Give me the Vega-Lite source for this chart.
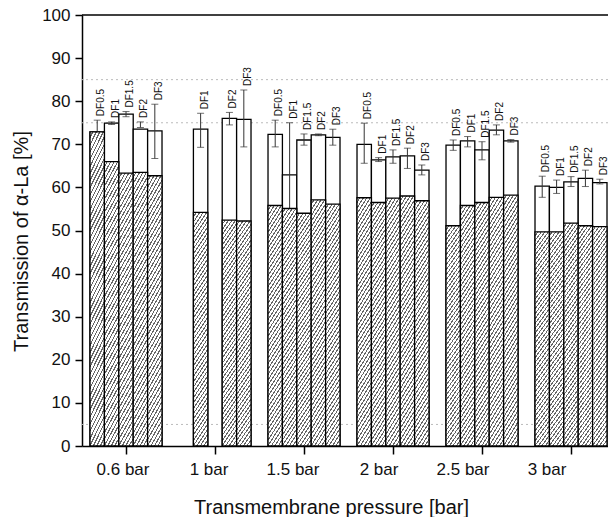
{
  "$schema": "https://vega.github.io/schema/vega-lite/v6.json",
  "width": 526,
  "height": 431,
  "autosize": {"type": "none"},
  "padding": {"left": 82, "top": 15, "right": 0, "bottom": 71},
  "background": "white",
  "config": {
    "view": {"stroke": null},
    "font": "Liberation Sans",
    "axis": {"domainColor": "black", "tickColor": "black", "labelColor": "#111", "titleColor": "#111", "titleFontWeight": "normal", "grid": false}
  },
  "layer": [
    {
      "data": {"values": [{"v": 5}, {"v": 75}, {"v": 85}]},
      "mark": {"type": "rule", "color": "#bbbbbb", "strokeDash": [2, 3], "strokeWidth": 1},
      "encoding": {
        "y": {
          "field": "v", "type": "quantitative", "scale": {"domain": [0, 100], "nice": false},
          "axis": {
            "title": "Transmission of α-La [%]",
            "values": [0,5,10,15,20,25,30,35,40,45,50,55,60,65,70,75,80,85,90,95,100],
            "labelExpr": "datum.value % 10 === 0 ? datum.label : ''",
            "tickSize": {"condition": {"test": "datum.value % 10 !== 0", "value": 4}, "value": 7},
            "labelFontSize": 17, "titleFontSize": 20, "labelPadding": 5, "titlePadding": 10, "titleY": 226,
            "domainWidth": 1.5, "tickWidth": 1.5
          }
        }
      }
    },
    {
      "data": {"values": [
        {"group":"0.6 bar","df":"DF0.5","total":72.9,"hatch":72.9,"lo":70.2,"hi":75.6},
        {"group":"0.6 bar","df":"DF1","total":74.9,"hatch":66.0,"lo":74.6,"hi":75.2},
        {"group":"0.6 bar","df":"DF1.5","total":77.0,"hatch":63.3,"lo":76.4,"hi":77.6},
        {"group":"0.6 bar","df":"DF2","total":73.5,"hatch":63.5,"lo":73.9,"hi":75.2},
        {"group":"0.6 bar","df":"DF3","total":73.1,"hatch":62.7,"lo":66.7,"hi":79.3},
        {"group":"1 bar","df":"DF1","total":73.5,"hatch":54.2,"lo":69.3,"hi":77.2},
        {"group":"1 bar","df":"DF2","total":76.0,"hatch":52.4,"lo":74.5,"hi":77.4},
        {"group":"1 bar","df":"DF3","total":75.8,"hatch":52.2,"lo":69.4,"hi":82.6},
        {"group":"1.5 bar","df":"DF0.5","total":72.3,"hatch":55.8,"lo":69.4,"hi":75.6},
        {"group":"1.5 bar","df":"DF1","total":62.9,"hatch":55.1,"lo":51.0,"hi":75.0},
        {"group":"1.5 bar","df":"DF1.5","total":71.0,"hatch":54.0,"lo":69.8,"hi":72.4},
        {"group":"1.5 bar","df":"DF2","total":72.2,"hatch":57.1,"lo":72.0,"hi":72.4},
        {"group":"1.5 bar","df":"DF3","total":71.6,"hatch":56.1,"lo":69.8,"hi":73.5},
        {"group":"2 bar","df":"DF0.5","total":70.0,"hatch":57.6,"lo":65.6,"hi":74.9},
        {"group":"2 bar","df":"DF1","total":66.4,"hatch":56.5,"lo":66.0,"hi":66.9},
        {"group":"2 bar","df":"DF1.5","total":67.1,"hatch":57.5,"lo":65.6,"hi":68.7},
        {"group":"2 bar","df":"DF2","total":67.3,"hatch":58.0,"lo":64.4,"hi":69.1},
        {"group":"2 bar","df":"DF3","total":64.0,"hatch":56.9,"lo":62.9,"hi":65.2},
        {"group":"2.5 bar","df":"DF0.5","total":69.8,"hatch":51.1,"lo":68.6,"hi":71.0},
        {"group":"2.5 bar","df":"DF1","total":70.8,"hatch":55.8,"lo":69.4,"hi":71.8},
        {"group":"2.5 bar","df":"DF1.5","total":68.7,"hatch":56.5,"lo":66.4,"hi":70.6},
        {"group":"2.5 bar","df":"DF2","total":73.3,"hatch":57.7,"lo":72.2,"hi":74.5},
        {"group":"2.5 bar","df":"DF3","total":70.8,"hatch":58.2,"lo":70.5,"hi":71.1},
        {"group":"3 bar","df":"DF0.5","total":60.3,"hatch":49.7,"lo":57.7,"hi":62.6},
        {"group":"3 bar","df":"DF1","total":60.0,"hatch":49.7,"lo":58.6,"hi":61.7},
        {"group":"3 bar","df":"DF1.5","total":61.3,"hatch":51.7,"lo":60.2,"hi":62.5},
        {"group":"3 bar","df":"DF2","total":62.1,"hatch":51.1,"lo":60.2,"hi":64.0},
        {"group":"3 bar","df":"DF3","total":61.1,"hatch":50.9,"lo":60.8,"hi":61.9}
      ]},
      "encoding": {
        "x": {
          "field": "group", "type": "nominal",
          "sort": ["0.6 bar", "1 bar", "1.5 bar", "2 bar", "2.5 bar", "3 bar"],
          "scale": {"paddingInner": 0.191, "paddingOuter": 0.0506, "align": 0.89},
          "axis": {
            "title": "Transmembrane pressure [bar]", "labelAngle": 0, "labelFontSize": 17, "titleFontSize": 20,
            "tickSize": 8, "labelPadding": 7, "titlePadding": 20, "titleX": 249, "domainWidth": 1.5, "tickWidth": 1.5,
            "labelOffset": {"condition": [
              {"test": "datum.value === '0.6 bar'", "value": -3},
              {"test": "datum.value === '1 bar'", "value": -6},
              {"test": "datum.value === '1.5 bar'", "value": -11},
              {"test": "datum.value === '2 bar'", "value": -14},
              {"test": "datum.value === '2.5 bar'", "value": -19},
              {"test": "datum.value === '3 bar'", "value": -24}
            ], "value": 0}
          }
        },
        "xOffset": {
          "field": "df", "type": "nominal",
          "scale": {"domain": ["DF0.5", "DF1", "DF1.5", "DF2", "DF3"], "paddingInner": 0, "paddingOuter": 0}
        }
      },
      "layer": [
        {
          "mark": {"type": "bar", "fill": "white", "stroke": "black", "strokeWidth": 1.3},
          "encoding": {"y": {"field": "total", "type": "quantitative"}}
        },
        {
          "mark": {"type": "rule", "color": "#333333", "strokeWidth": 1},
          "encoding": {
            "y": {"field": "lo", "type": "quantitative"},
            "y2": {"field": "hi"}
          }
        },
        {
          "mark": {"type": "tick", "color": "#333333", "size": 7, "thickness": 1},
          "encoding": {"y": {"field": "lo", "type": "quantitative"}}
        },
        {
          "mark": {"type": "tick", "color": "#333333", "size": 7, "thickness": 1},
          "encoding": {"y": {"field": "hi", "type": "quantitative"}}
        },
        {
          "mark": {
            "type": "bar", "stroke": "black", "strokeWidth": 1.3,
            "fill": {"gradient": "linear", "x1": 0, "y1": 0, "x2": 0.102, "y2": 1.084, "stops": [
              {"offset":0,"color":"#fff"},{"offset":0.0135,"color":"#fff"},{"offset":0.0135,"color":"#666"},{"offset":0.0208,"color":"#666"},
              {"offset":0.0208,"color":"#fff"},{"offset":0.0343,"color":"#fff"},{"offset":0.0343,"color":"#666"},{"offset":0.0417,"color":"#666"},
              {"offset":0.0417,"color":"#fff"},{"offset":0.0552,"color":"#fff"},{"offset":0.0552,"color":"#666"},{"offset":0.0625,"color":"#666"},
              {"offset":0.0625,"color":"#fff"},{"offset":0.076,"color":"#fff"},{"offset":0.076,"color":"#666"},{"offset":0.0833,"color":"#666"},
              {"offset":0.0833,"color":"#fff"},{"offset":0.0968,"color":"#fff"},{"offset":0.0968,"color":"#666"},{"offset":0.1042,"color":"#666"},
              {"offset":0.1042,"color":"#fff"},{"offset":0.1177,"color":"#fff"},{"offset":0.1177,"color":"#666"},{"offset":0.125,"color":"#666"},
              {"offset":0.125,"color":"#fff"},{"offset":0.1385,"color":"#fff"},{"offset":0.1385,"color":"#666"},{"offset":0.1458,"color":"#666"},
              {"offset":0.1458,"color":"#fff"},{"offset":0.1593,"color":"#fff"},{"offset":0.1593,"color":"#666"},{"offset":0.1667,"color":"#666"},
              {"offset":0.1667,"color":"#fff"},{"offset":0.1802,"color":"#fff"},{"offset":0.1802,"color":"#666"},{"offset":0.1875,"color":"#666"},
              {"offset":0.1875,"color":"#fff"},{"offset":0.201,"color":"#fff"},{"offset":0.201,"color":"#666"},{"offset":0.2083,"color":"#666"},
              {"offset":0.2083,"color":"#fff"},{"offset":0.2218,"color":"#fff"},{"offset":0.2218,"color":"#666"},{"offset":0.2292,"color":"#666"},
              {"offset":0.2292,"color":"#fff"},{"offset":0.2427,"color":"#fff"},{"offset":0.2427,"color":"#666"},{"offset":0.25,"color":"#666"},
              {"offset":0.25,"color":"#fff"},{"offset":0.2635,"color":"#fff"},{"offset":0.2635,"color":"#666"},{"offset":0.2708,"color":"#666"},
              {"offset":0.2708,"color":"#fff"},{"offset":0.2843,"color":"#fff"},{"offset":0.2843,"color":"#666"},{"offset":0.2917,"color":"#666"},
              {"offset":0.2917,"color":"#fff"},{"offset":0.3052,"color":"#fff"},{"offset":0.3052,"color":"#666"},{"offset":0.3125,"color":"#666"},
              {"offset":0.3125,"color":"#fff"},{"offset":0.326,"color":"#fff"},{"offset":0.326,"color":"#666"},{"offset":0.3333,"color":"#666"},
              {"offset":0.3333,"color":"#fff"},{"offset":0.3468,"color":"#fff"},{"offset":0.3468,"color":"#666"},{"offset":0.3542,"color":"#666"},
              {"offset":0.3542,"color":"#fff"},{"offset":0.3677,"color":"#fff"},{"offset":0.3677,"color":"#666"},{"offset":0.375,"color":"#666"},
              {"offset":0.375,"color":"#fff"},{"offset":0.3885,"color":"#fff"},{"offset":0.3885,"color":"#666"},{"offset":0.3958,"color":"#666"},
              {"offset":0.3958,"color":"#fff"},{"offset":0.4093,"color":"#fff"},{"offset":0.4093,"color":"#666"},{"offset":0.4167,"color":"#666"},
              {"offset":0.4167,"color":"#fff"},{"offset":0.4302,"color":"#fff"},{"offset":0.4302,"color":"#666"},{"offset":0.4375,"color":"#666"},
              {"offset":0.4375,"color":"#fff"},{"offset":0.451,"color":"#fff"},{"offset":0.451,"color":"#666"},{"offset":0.4583,"color":"#666"},
              {"offset":0.4583,"color":"#fff"},{"offset":0.4718,"color":"#fff"},{"offset":0.4718,"color":"#666"},{"offset":0.4792,"color":"#666"},
              {"offset":0.4792,"color":"#fff"},{"offset":0.4927,"color":"#fff"},{"offset":0.4927,"color":"#666"},{"offset":0.5,"color":"#666"},
              {"offset":0.5,"color":"#fff"},{"offset":0.5135,"color":"#fff"},{"offset":0.5135,"color":"#666"},{"offset":0.5208,"color":"#666"},
              {"offset":0.5208,"color":"#fff"},{"offset":0.5343,"color":"#fff"},{"offset":0.5343,"color":"#666"},{"offset":0.5417,"color":"#666"},
              {"offset":0.5417,"color":"#fff"},{"offset":0.5552,"color":"#fff"},{"offset":0.5552,"color":"#666"},{"offset":0.5625,"color":"#666"},
              {"offset":0.5625,"color":"#fff"},{"offset":0.576,"color":"#fff"},{"offset":0.576,"color":"#666"},{"offset":0.5833,"color":"#666"},
              {"offset":0.5833,"color":"#fff"},{"offset":0.5968,"color":"#fff"},{"offset":0.5968,"color":"#666"},{"offset":0.6042,"color":"#666"},
              {"offset":0.6042,"color":"#fff"},{"offset":0.6177,"color":"#fff"},{"offset":0.6177,"color":"#666"},{"offset":0.625,"color":"#666"},
              {"offset":0.625,"color":"#fff"},{"offset":0.6385,"color":"#fff"},{"offset":0.6385,"color":"#666"},{"offset":0.6458,"color":"#666"},
              {"offset":0.6458,"color":"#fff"},{"offset":0.6593,"color":"#fff"},{"offset":0.6593,"color":"#666"},{"offset":0.6667,"color":"#666"},
              {"offset":0.6667,"color":"#fff"},{"offset":0.6802,"color":"#fff"},{"offset":0.6802,"color":"#666"},{"offset":0.6875,"color":"#666"},
              {"offset":0.6875,"color":"#fff"},{"offset":0.701,"color":"#fff"},{"offset":0.701,"color":"#666"},{"offset":0.7083,"color":"#666"},
              {"offset":0.7083,"color":"#fff"},{"offset":0.7218,"color":"#fff"},{"offset":0.7218,"color":"#666"},{"offset":0.7292,"color":"#666"},
              {"offset":0.7292,"color":"#fff"},{"offset":0.7427,"color":"#fff"},{"offset":0.7427,"color":"#666"},{"offset":0.75,"color":"#666"},
              {"offset":0.75,"color":"#fff"},{"offset":0.7635,"color":"#fff"},{"offset":0.7635,"color":"#666"},{"offset":0.7708,"color":"#666"},
              {"offset":0.7708,"color":"#fff"},{"offset":0.7843,"color":"#fff"},{"offset":0.7843,"color":"#666"},{"offset":0.7917,"color":"#666"},
              {"offset":0.7917,"color":"#fff"},{"offset":0.8052,"color":"#fff"},{"offset":0.8052,"color":"#666"},{"offset":0.8125,"color":"#666"},
              {"offset":0.8125,"color":"#fff"},{"offset":0.826,"color":"#fff"},{"offset":0.826,"color":"#666"},{"offset":0.8333,"color":"#666"},
              {"offset":0.8333,"color":"#fff"},{"offset":0.8468,"color":"#fff"},{"offset":0.8468,"color":"#666"},{"offset":0.8542,"color":"#666"},
              {"offset":0.8542,"color":"#fff"},{"offset":0.8677,"color":"#fff"},{"offset":0.8677,"color":"#666"},{"offset":0.875,"color":"#666"},
              {"offset":0.875,"color":"#fff"},{"offset":0.8885,"color":"#fff"},{"offset":0.8885,"color":"#666"},{"offset":0.8958,"color":"#666"},
              {"offset":0.8958,"color":"#fff"},{"offset":0.9093,"color":"#fff"},{"offset":0.9093,"color":"#666"},{"offset":0.9167,"color":"#666"},
              {"offset":0.9167,"color":"#fff"},{"offset":0.9302,"color":"#fff"},{"offset":0.9302,"color":"#666"},{"offset":0.9375,"color":"#666"},
              {"offset":0.9375,"color":"#fff"},{"offset":0.951,"color":"#fff"},{"offset":0.951,"color":"#666"},{"offset":0.9583,"color":"#666"},
              {"offset":0.9583,"color":"#fff"},{"offset":0.9718,"color":"#fff"},{"offset":0.9718,"color":"#666"},{"offset":0.9792,"color":"#666"},
              {"offset":0.9792,"color":"#fff"},{"offset":0.9927,"color":"#fff"},{"offset":0.9927,"color":"#666"},{"offset":1,"color":"#666"}
            ]}
          },
          "encoding": {"y": {"field": "hatch", "type": "quantitative"}}
        },
        {
          "mark": {"type": "text", "angle": -90, "align": "left", "baseline": "middle", "dx": 4, "dy": 4, "fontSize": 10, "color": "#111"},
          "encoding": {
            "y": {"field": "hi", "type": "quantitative"},
            "text": {"field": "df"}
          }
        }
      ]
    },
    {
      "data": {"values": [{"top": 100}]},
      "mark": {"type": "rule", "color": "black", "strokeWidth": 1.5},
      "encoding": {"y": {"field": "top", "type": "quantitative"}}
    }
  ]
}
